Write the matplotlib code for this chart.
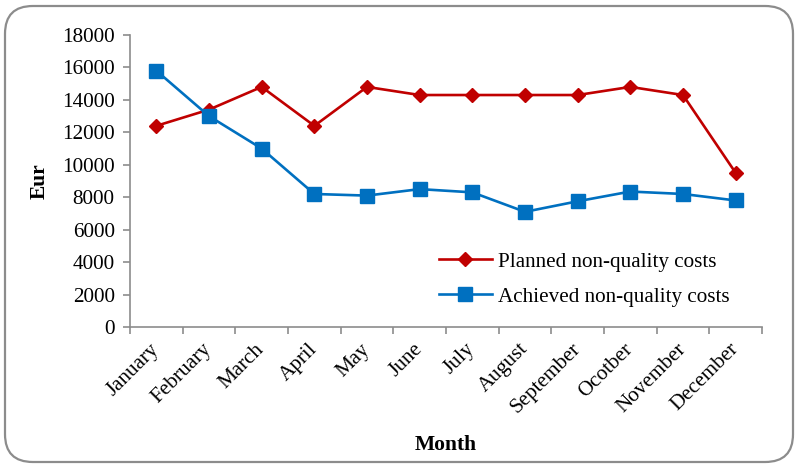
import matplotlib
matplotlib.use("Agg")
import matplotlib.pyplot as plt
from matplotlib.patches import FancyBboxPatch
from matplotlib.ticker import FixedLocator, NullFormatter, FixedFormatter

months = ["January", "February", "March", "April", "May", "June", "July",
          "August", "September", "Ocotber", "November", "December"]
planned = [12400, 13400, 14800, 12400, 14800, 14300, 14300, 14300, 14300, 14800, 14300, 9500]
achieved = [15800, 13000, 11000, 8200, 8100, 8500, 8300, 7100, 7750, 8350, 8200, 7800]
yticks = [0, 2000, 4000, 6000, 8000, 10000, 12000, 14000, 16000, 18000]

plt.rcParams['font.family'] = ['Liberation Serif', 'DejaVu Serif']
FS = 15.2

fig = plt.figure(figsize=(7.96, 4.65), dpi=100)
ax = fig.add_axes([130/796, 1-327/465, (762-130)/796, (327-35)/465])

border = FancyBboxPatch((5/796, 3/465), 788/796, 456/465,
                        boxstyle="round,pad=0,rounding_size=0.035",
                        transform=fig.transFigure, facecolor='none',
                        edgecolor='#8c8c8c', linewidth=1.6, mutation_aspect=796/465)
fig.patches.append(border)

x = list(range(len(months)))
ax.plot(x, planned, color='#C00000', marker='D', markersize=7.2, linewidth=1.9,
        label='Planned non-quality costs')
ax.plot(x, achieved, color='#0070C0', marker='s', markersize=10.5, linewidth=1.9,
        label='Achieved non-quality costs')

ax.set_xlim(-0.5, len(months) - 0.5)
ax.set_ylim(0, 18000)
ax.set_yticks(yticks)
ax.set_yticklabels([str(v) for v in yticks])

ax.xaxis.set_major_locator(FixedLocator([i - 0.5 for i in range(len(months) + 1)]))
ax.xaxis.set_major_formatter(NullFormatter())
ax.xaxis.set_minor_locator(FixedLocator(x))
ax.xaxis.set_minor_formatter(FixedFormatter(months))
ax.tick_params(axis='x', which='major', length=5, width=1.2, color='#8c8c8c', direction='out')
ax.tick_params(axis='x', which='minor', length=0, pad=14, labelsize=FS)
ax.tick_params(axis='y', length=5, width=1.2, color='#8c8c8c', labelsize=FS, pad=6)
for lab in ax.xaxis.get_minorticklabels():
    lab.set_rotation(45)
    lab.set_ha('right')
    lab.set_va('center')
    lab.set_rotation_mode('anchor')

for s in ['top', 'right']:
    ax.spines[s].set_visible(False)
for s in ['left', 'bottom']:
    ax.spines[s].set_color('#8c8c8c')
    ax.spines[s].set_linewidth(1.2)

ax.set_xlabel('Month', fontsize=15.5, fontweight='bold', labelpad=13)
ax.set_ylabel('Eur', fontsize=15.5, fontweight='bold', labelpad=9)

ax.legend(loc='upper left', bbox_to_anchor=((439-130)/632, (327-252)/292), frameon=False,
          fontsize=FS, handlelength=2.5, handletextpad=0.3, labelspacing=0.72,
          borderpad=0, borderaxespad=0)

fig.savefig('out.png', dpi=100)
